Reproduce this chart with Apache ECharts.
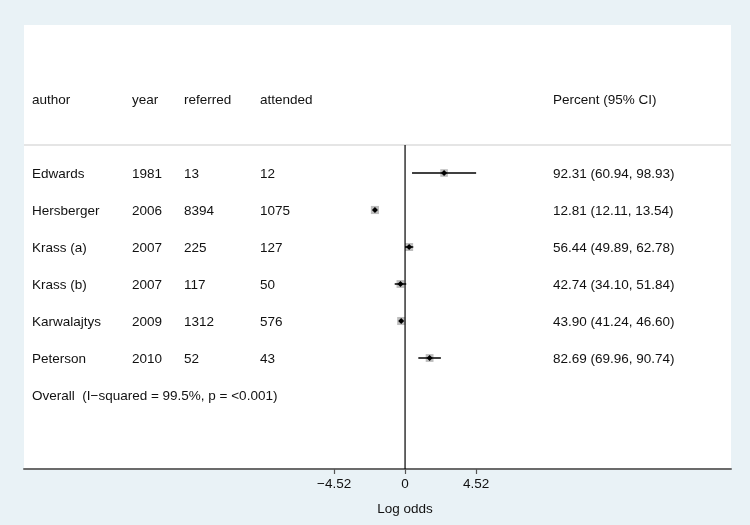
<!DOCTYPE html>
<html><head><meta charset="utf-8">
<script src="https://cdn.jsdelivr.net/npm/echarts@6/dist/echarts.min.js"></script>
<style>html,body{margin:0;padding:0;background:#e9f2f6}#c{width:750px;height:525px}</style>
</head><body><div id="c"></div>
<script>
const authors=['Edwards','Hersberger','Krass (a)','Krass (b)','Karwalajtys','Peterson'];
const years=[1981,2006,2007,2007,2009,2010];
const referred=[13,8394,225,117,1312,52];
const attended=[12,1075,127,50,576,43];
const percent=[92.31,12.81,56.44,42.74,43.90,82.69];
const ciLow=[60.94,12.11,49.89,34.10,41.24,69.96];
const ciHigh=[98.93,13.54,62.78,51.84,46.60,90.74];
const weights=[15.2,17.4,16.9,16.2,17.1,16.0];
const headers=['author','year','referred','attended','Percent (95% CI)'];
const overallText='Overall  (I\u2212squared = 99.5%, p = <0.001)';
const xTicks=[-4.52,0,4.52];
const xName='Log odds';

// layout (pixels / styles)
const colX=[32,132,184,260,553];
const FONT='"Liberation Sans", Arial, Helvetica, sans-serif';
const FS=13.5;
const TXT='#111111';

const logit=p=>Math.log((p/100)/(1-p/100));
const boxSize=w=>Math.sqrt(w)*1.95;

const ciData=percent.map((p,i)=>[logit(p),logit(ciLow[i]),logit(ciHigh[i]),i,boxSize(weights[i])]);
const rowData=authors.map((a,i)=>[0,i]);

const chart=echarts.init(document.getElementById('c'),null,{renderer:'canvas'});
const option={
  backgroundColor:'#e9f2f6',
  animation:false,
  grid:{left:24,right:19,top:25,bottom:56,show:true,backgroundColor:'#ffffff',borderWidth:0},
  xAxis:{type:'value',min:-24.27,max:20.76,splitLine:{show:false},
    axisLine:{show:true,onZero:false,lineStyle:{color:'#6b6b6b',width:2}},
    axisTick:{show:true,customValues:xTicks,length:5,lineStyle:{color:'#555',width:1.2}},
    axisLabel:{show:true,customValues:xTicks,color:TXT,fontFamily:FONT,fontSize:FS,margin:8,
      formatter:v=>(v<0?'\u2212':'')+(v===0?'0':Math.abs(v).toFixed(2))}},
  yAxis:{type:'value',inverse:true,min:-4,max:8,show:false},
  series:[
    {type:'line',data:[[-24.27,-0.757],[20.76,-0.757]],symbol:'none',silent:true,
      lineStyle:{color:'#dddddd',width:1.5}},
    {type:'line',data:[[0,-0.757],[0,8]],symbol:'none',silent:true,
      lineStyle:{color:'#000',width:1.2}},
    {type:'custom',data:ciData,encode:{x:[0,1,2],y:3},silent:true,
      renderItem(params,api){
        const y=api.coord([0,api.value(3)])[1];
        const xc=api.coord([api.value(0),0])[0];
        const xl=api.coord([api.value(1),0])[0];
        const xh=api.coord([api.value(2),0])[0];
        const s=api.value(4);
        return {type:'group',children:[
          {type:'rect',shape:{x:xc-s/2,y:y-s/2,width:s,height:s},style:{fill:'#bdbdbd'}},
          {type:'line',shape:{x1:xl,y1:y,x2:xh,y2:y},style:{stroke:'#000',lineWidth:1.5}},
          {type:'polygon',shape:{points:[[xc,y-3],[xc+3,y],[xc,y+3],[xc-3,y]]},style:{fill:'#000'}}
        ]};
      }},
    {type:'custom',data:rowData,encode:{x:0,y:1},silent:true,
      renderItem(params,api){
        const i=params.dataIndex;
        const y=api.coord([0,i])[1]+1;
        const vals=[authors[i],String(years[i]),String(referred[i]),String(attended[i]),
          percent[i].toFixed(2)+' ('+ciLow[i].toFixed(2)+', '+ciHigh[i].toFixed(2)+')'];
        const children=vals.map((t,k)=>({type:'text',x:colX[k],y:y,
          style:{text:t,fill:TXT,font:FS+'px '+FONT,verticalAlign:'middle'}}));
        if(i===0){
          const yh=api.coord([0,-2])[1]+1.5;
          headers.forEach((t,k)=>children.push({type:'text',x:colX[k],y:yh,
            style:{text:t,fill:TXT,font:FS+'px '+FONT,verticalAlign:'middle'}}));
          const yo=api.coord([0,6])[1]+1;
          children.push({type:'text',x:colX[0],y:yo,
            style:{text:overallText,fill:TXT,font:FS+'px '+FONT,verticalAlign:'middle'}});
        }
        return {type:'group',children};
      }}
  ]
};
chart.setOption(option);
const x0=chart.convertToPixel({xAxisIndex:0},0);
chart.setOption({graphic:[{type:'text',x:x0,y:509,style:{text:xName,fill:TXT,font:FS+'px '+FONT,align:'center',verticalAlign:'middle'}}]});
</script></body></html>
